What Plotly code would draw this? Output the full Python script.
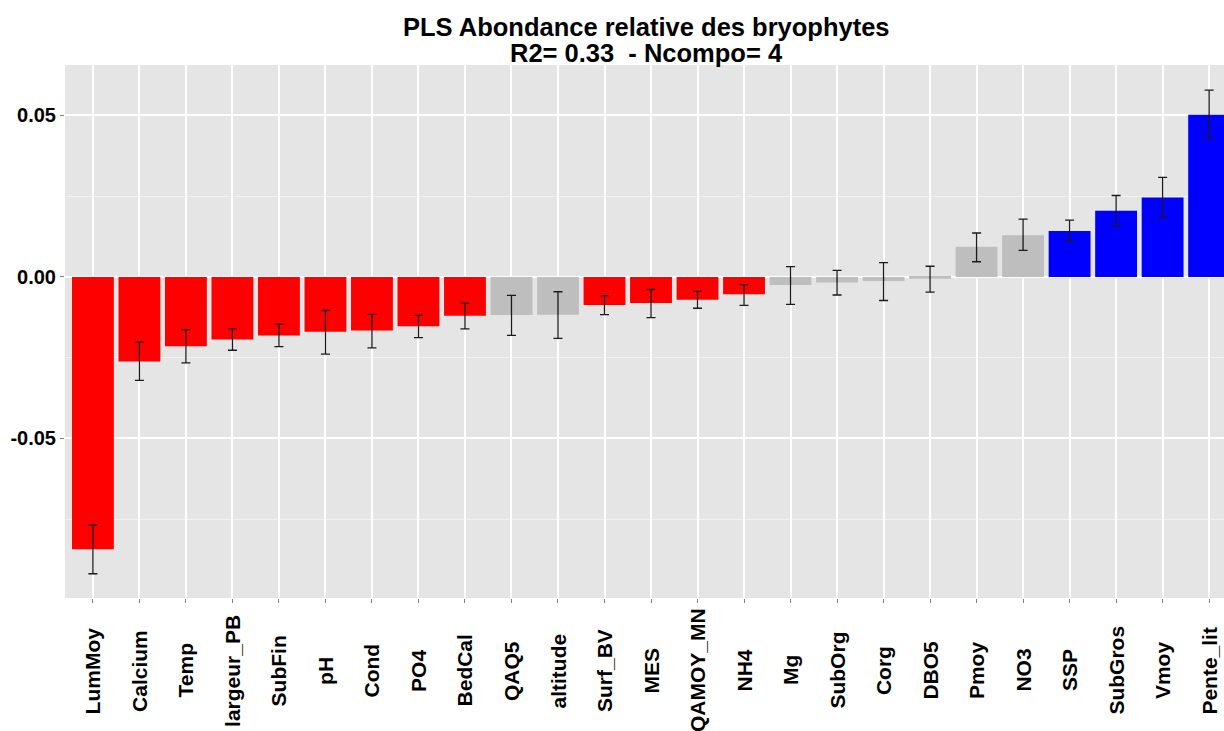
import plotly.graph_objects as go

# PLS coefficients with their confidence limits
variables = ["LumMoy", "Calcium", "Temp", "largeur_PB", "SubFin", "pH", "Cond", "PO4",
             "BedCal", "QAQ5", "altitude", "Surf_BV", "MES", "QAMOY_MN", "NH4", "Mg",
             "SubOrg", "Corg", "DBO5", "Pmoy", "NO3", "SSP", "SubGros", "Vmoy", "Pente_lit"]
coef = [-0.0843, -0.0262, -0.0215, -0.0194, -0.0181, -0.0170, -0.0166, -0.0153,
        -0.0120, -0.0118, -0.0117, -0.0087, -0.0081, -0.0071, -0.0054, -0.0025,
        -0.0017, -0.0013, -0.0006, 0.0093, 0.0129, 0.0142, 0.0205, 0.0246, 0.0502]
lower = [-0.0919, -0.0320, -0.0266, -0.0227, -0.0216, -0.0239, -0.0220, -0.0188,
         -0.0161, -0.0181, -0.0190, -0.0117, -0.0126, -0.0097, -0.0088, -0.0085,
         -0.0056, -0.0073, -0.0047, 0.0047, 0.0082, 0.0110, 0.0157, 0.0185, 0.0429]
upper = [-0.0768, -0.0202, -0.0163, -0.0161, -0.0146, -0.0104, -0.0116, -0.0119,
         -0.0081, -0.0057, -0.0046, -0.0058, -0.0039, -0.0045, -0.0024, 0.0032,
         0.0020, 0.0044, 0.0033, 0.0136, 0.0179, 0.0176, 0.0252, 0.0308, 0.0578]
# effect class: negative / not significant / positive
effect = ["neg"] * 9 + ["ns"] * 2 + ["neg"] * 4 + ["ns"] * 6 + ["pos"] * 4

title_lines = ["PLS Abondance relative des bryophytes", "R2= 0.33 &nbsp;- Ncompo= 4"]

palette = {"neg": "#FF0000", "ns": "#BEBEBE", "pos": "#0000FF"}
colors = [palette[e] for e in effect]

err_plus = [u - c for u, c in zip(upper, coef)]
err_minus = [c - l for c, l in zip(coef, lower)]

FONT = "Liberation Sans, Arial"

fig = go.Figure()
fig.add_trace(go.Bar(
    x=variables, y=coef, width=0.9,
    marker=dict(color=colors, line=dict(width=0)),
    error_y=dict(type="data", symmetric=False, array=err_plus, arrayminus=err_minus,
                 color="#1a1a1a", thickness=1.3, width=4.5),
    showlegend=False,
))

# rotated category labels, centred under each bar
for v in variables:
    fig.add_annotation(x=v, xref="x", y=-0.136, yref="paper", text=v, textangle=-90,
                       showarrow=False, xanchor="center", yanchor="middle",
                       font=dict(family=FONT, size=21, color="black", weight="bold"))

# two-line title centred over the panel
for txt, ypos in zip(title_lines, [1.0713, 1.0225]):
    fig.add_annotation(x=0.502, xref="paper", y=ypos, yref="paper", text=txt,
                       showarrow=False, xanchor="center", yanchor="middle",
                       font=dict(family=FONT, size=25.5, color="black", weight="bold"))

fig.update_layout(
    width=1224, height=731,
    margin=dict(l=65, r=0, t=65, b=133),
    paper_bgcolor="white", plot_bgcolor="#E5E5E5",
    font=dict(family=FONT),
    bargap=0.1,
)

fig.update_xaxes(
    range=[-0.6, 24.32], showticklabels=False,
    showgrid=True, gridcolor="white", gridwidth=1.5,
    ticks="outside", ticklen=4, tickcolor="#7F7F7F", tickwidth=1,
    zeroline=False, showline=False,
)
fig.update_yaxes(
    range=[-0.0994, 0.0656],
    tickvals=[-0.05, 0.0, 0.05], ticktext=["-0.05", "0.00", "0.05"],
    tickfont=dict(family=FONT, size=20, color="black", weight="bold"),
    showgrid=True, gridcolor="white", gridwidth=1.5,
    minor=dict(tickvals=[-0.075, -0.025, 0.025], showgrid=True, gridcolor="#F2F2F2",
               gridwidth=1),
    ticks="outside", ticklen=4, tickcolor="#7F7F7F", tickwidth=1,
    zeroline=False, showline=False,
)

fig.write_html("out.html")
